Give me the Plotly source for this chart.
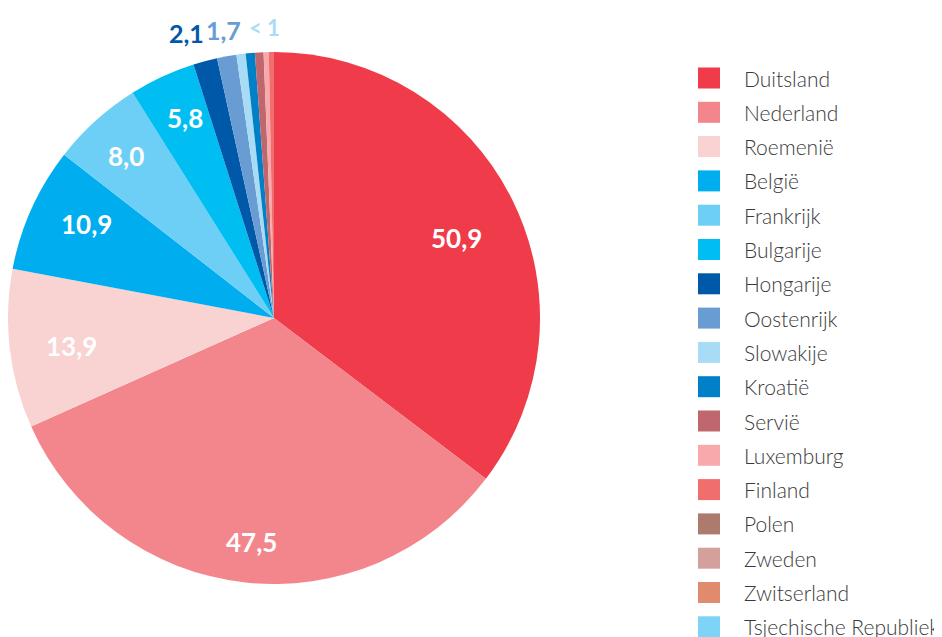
import plotly.graph_objects as go

countries = ["Duitsland", "Nederland", "Roemenië", "België", "Frankrijk", "Bulgarije",
             "Hongarije", "Oostenrijk", "Slowakije", "Kroatië", "Servië", "Luxemburg",
             "Finland", "Polen", "Zweden", "Zwitserland", "Tsjechische Republiek"]
values = [50.9, 47.5, 13.9, 10.9, 8.0, 5.8, 2.1, 1.7, 0.8, 0.8, 0.75, 0.45, 0.45, 0, 0, 0, 0]
inside_labels = ["50,9", "47,5", "13,9", "10,9", "8,0", "5,8"]
colors = ["#EF3B4A", "#F2868C", "#F9D2D2", "#00AEEF", "#6DCFF6", "#00BEF2",
          "#0058A8", "#6A9CD4", "#A8DCF6", "#0080C6", "#C0666D", "#F7A9AC",
          "#F06E6B", "#AD7B6E", "#D4A09B", "#E08A6E", "#7DD4F6"]
outside_labels = ["2,1", "1,7", "< 1"]
outside_colors = ["#0058A8", "#6A9CD4", "#A8DCF6"]

W, H = 942, 637
OFF = 8  # page body margin offset

def px(x):
    return (x - OFF) / W

def py(y):
    return 1 - (y - OFF) / H

cx, cy, R = 274, 318, 266
fig = go.Figure(go.Pie(
    labels=countries, values=values,
    textinfo="none",
    sort=False, direction="clockwise", rotation=0,
    marker=dict(colors=colors, line=dict(width=0)),
    domain=dict(x=[px(cx - R), px(cx + R)], y=[py(cy + R), py(cy - R)]),
    showlegend=False, hoverinfo="label+value",
))

# labels inside the large slices
in_pos = [(456, 238), (251, 542), (71, 346), (86, 224), (126, 156), (185, 118)]
for txt, (x, y) in zip(inside_labels, in_pos):
    fig.add_annotation(x=px(x), y=py(y), xref="paper", yref="paper",
                       text=txt, showarrow=False, xanchor="center", yanchor="middle",
                       font=dict(family="Lato", size=26, color="white", weight="bold"))

# outside labels for small slices
out_pos = [(186, 33, 25), (223, 30, 25), (264, 28, 22)]
for txt, col, (x, y, fs) in zip(outside_labels, outside_colors, out_pos):
    fig.add_annotation(x=px(x), y=py(y), xref="paper", yref="paper",
                       text=txt, showarrow=False, xanchor="center", yanchor="middle",
                       font=dict(family="Lato", size=fs, color=col, weight="bold"))

# legend
top, step = 78, 34.3
for i, (name, col) in enumerate(zip(countries, colors)):
    yc = top + i * step
    fig.add_shape(type="rect", xref="paper", yref="paper",
                  x0=px(698), x1=px(720), y0=py(yc - 10.5), y1=py(yc + 10.5),
                  fillcolor=col, line=dict(width=0))
    fig.add_annotation(x=px(742), y=py(yc), xref="paper", yref="paper",
                       text=name, showarrow=False, xanchor="left", yanchor="middle",
                       font=dict(family="Lato", size=21, color="#3a3a3a", weight=300))

fig.update_layout(width=W, height=H, margin=dict(l=0, r=0, t=0, b=0),
                  paper_bgcolor="white", plot_bgcolor="white")
fig.write_html("out.html")
